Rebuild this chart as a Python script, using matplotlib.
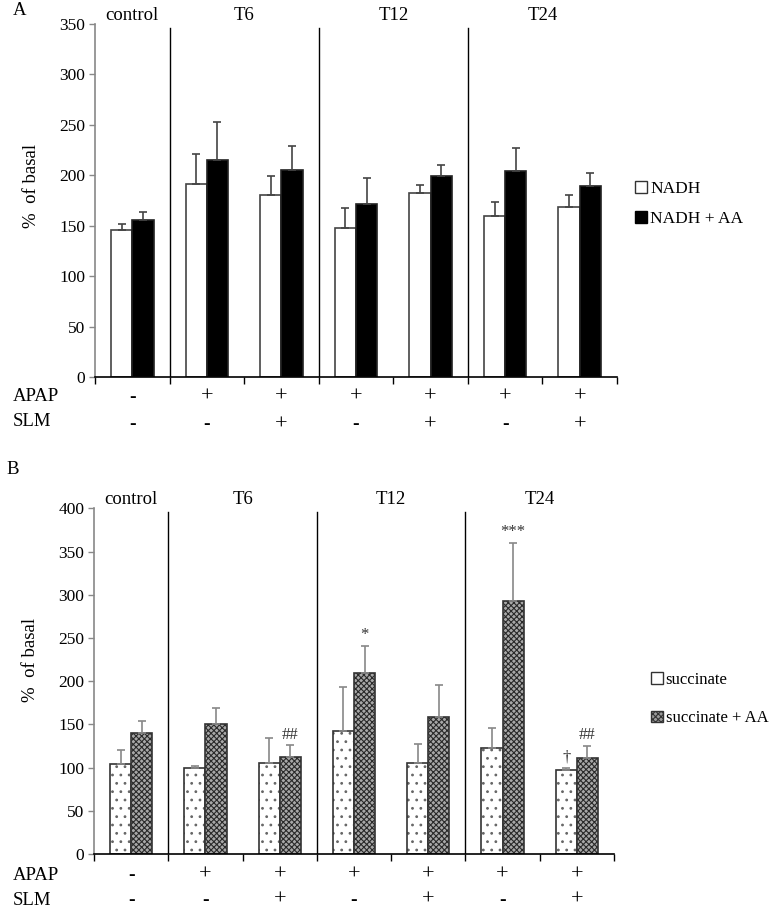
import matplotlib
matplotlib.use("Agg")
import matplotlib.pyplot as plt
import numpy as np
from matplotlib.patches import Patch

plt.rcParams['font.family'] = ['Liberation Serif', 'DejaVu Serif']
plt.rcParams['hatch.linewidth'] = 0.8

groups = ["control", "T6", "T12", "T24"]
group_centers = [0, 1.5, 3.5, 5.5]
apap = ["-", "+", "+", "+", "+", "+", "+"]
slm = ["-", "-", "+", "-", "+", "-", "+"]

# panel A: NADH
nadh = [146, 191, 180, 148, 182, 160, 169]
nadh_err = [6, 30, 19, 20, 8, 13, 11]
nadh_aa = [156, 215, 205, 172, 199, 204, 189]
nadh_aa_err = [8, 38, 24, 25, 11, 23, 13]

# panel B: succinate
succ = [104, 100, 105, 142, 105, 123, 97]
succ_err = [16, 2, 29, 51, 22, 23, 2]
succ_aa = [140, 150, 112, 209, 159, 293, 111]
succ_aa_err = [14, 19, 14, 32, 37, 67, 14]
marks_white = ["", "", "", "", "", "", "\u2020"]
marks_aa = ["", "", "##", "*", "", "***", "##"]

fig = plt.figure(figsize=(7.7, 9.09), dpi=100)
axA = fig.add_axes([0.1234, 0.5853, 0.6779, 0.3883])
axB = fig.add_axes([0.1221, 0.0605, 0.6753, 0.3803])

x = np.arange(len(apap))
w = 0.285


def bars(ax, xs, vals, errs, ecol, fill, hatch_col=None):
    if hatch_col is not None:
        # hatch drawn first in its own colour, outline on top
        ax.bar(xs, vals, w, linewidth=0, **fill, edgecolor=hatch_col)
        ax.bar(xs, vals, w, fill=False, edgecolor='#333333', linewidth=1.2,
               yerr=[np.zeros(len(vals)), errs], ecolor=ecol, capsize=3,
               error_kw=dict(elinewidth=1.2, capthick=1.2))
    else:
        ax.bar(xs, vals, w, linewidth=1.2, **fill,
               yerr=[np.zeros(len(vals)), errs], ecolor=ecol, capsize=3,
               error_kw=dict(elinewidth=1.2, capthick=1.2))


def setup(ax, ymax, step, sign_y, label_y):
    ax.set_xlim(-0.5, len(x) - 0.5)
    ax.set_ylim(0, ymax)
    ax.set_yticks(np.arange(0, ymax + 1, step))
    ax.set_xticks(np.arange(-0.5, len(x), 1))
    ax.set_xticklabels([])
    ax.tick_params(axis='x', direction='out', length=5, width=1, color='black')
    ax.tick_params(axis='y', direction='out', length=4, width=1, color='#888888',
                   labelsize=12.5, pad=3)
    for s in ['top', 'right']:
        ax.spines[s].set_visible(False)
    ax.spines['left'].set_color('#888888')
    ax.spines['left'].set_linewidth(1.2)
    ax.spines['bottom'].set_linewidth(1.2)
    for b in [0.5, 2.5, 4.5]:
        ax.axvline(b, ymin=0, ymax=0.99, color='black', lw=1)
    for g, c in zip(groups, group_centers):
        ax.text(c, 1.025, g, transform=ax.get_xaxis_transform(), ha='center',
                va='center', fontsize=13.5)
    tr = ax.get_xaxis_transform()
    for i in x:
        for row, yy in [(apap, sign_y[0]), (slm, sign_y[1])]:
            s = row[i]
            ax.text(i, yy, s, transform=tr, ha='center', va='center',
                    fontsize=16 if s == '+' else 14,
                    fontweight='bold' if s == '-' else 'normal')
    ax.set_ylabel("%  of basal", fontsize=13.5)
    ax.yaxis.set_label_coords(-0.106, label_y)


fillA1 = dict(color='white', edgecolor='#444444')
fillA2 = dict(color='black', edgecolor='#222222')
bars(axA, x - w / 2, nadh, nadh_err, '#444444', fillA1)
bars(axA, x + w / 2, nadh_aa, nadh_aa_err, '#444444', fillA2)
setup(axA, 350, 50, (-0.057, -0.136), 0.54)
legA = [Patch(facecolor='white', edgecolor='#333333', label='NADH'),
        Patch(facecolor='black', edgecolor='black', label='NADH + AA')]
axA.legend(handles=legA, loc='center left', frameon=False, fontsize=12.5,
           handlelength=0.7, handleheight=0.7, handletextpad=0.15,
           borderpad=0, borderaxespad=0, labelspacing=0.75,
           bbox_to_anchor=(1.035, 0.49))

bars(axB, x - w / 2, succ, succ_err, '#888888',
     dict(facecolor='white', hatch='..'), hatch_col='#666666')
bars(axB, x + w / 2, succ_aa, succ_aa_err, '#888888',
     dict(facecolor='#a8a8a8', hatch='xxxxxx'), hatch_col='#2a2a2a')
setup(axB, 400, 50, (-0.061, -0.134), 0.56)
legB = [Patch(facecolor='white', edgecolor='#333333', label='succinate'),
        Patch(facecolor='#9a9a9a', edgecolor='#333333', hatch='xxxxxx',
              label='succinate + AA')]
axB.legend(handles=legB, loc='center left', frameon=False, fontsize=12,
           handlelength=0.7, handleheight=0.7, handletextpad=0.15,
           borderpad=0, borderaxespad=0, labelspacing=1.35,
           bbox_to_anchor=(1.072, 0.448))

for i in x:
    if marks_white[i]:
        axB.text(i - w / 2, succ[i] + succ_err[i] + 3, marks_white[i],
                 ha='center', va='bottom', fontsize=12, color='#333333')
    if marks_aa[i]:
        axB.text(i + w / 2, succ_aa[i] + succ_aa_err[i] + 3, marks_aa[i],
                 ha='center', va='bottom', fontsize=12, color='#333333')

fig.text(0.016, 0.988, "A", fontsize=13.5, va='center')
fig.text(0.008, 0.484, "B", fontsize=13.5, va='center')
for yA, yB, t in [(0.5633, 0.0374, "APAP"), (0.5358, 0.0095, "SLM")]:
    fig.text(0.017, yA, t, fontsize=13.5, va='center')
    fig.text(0.017, yB, t, fontsize=13.5, va='center')

fig.savefig("out.png", dpi=100)
